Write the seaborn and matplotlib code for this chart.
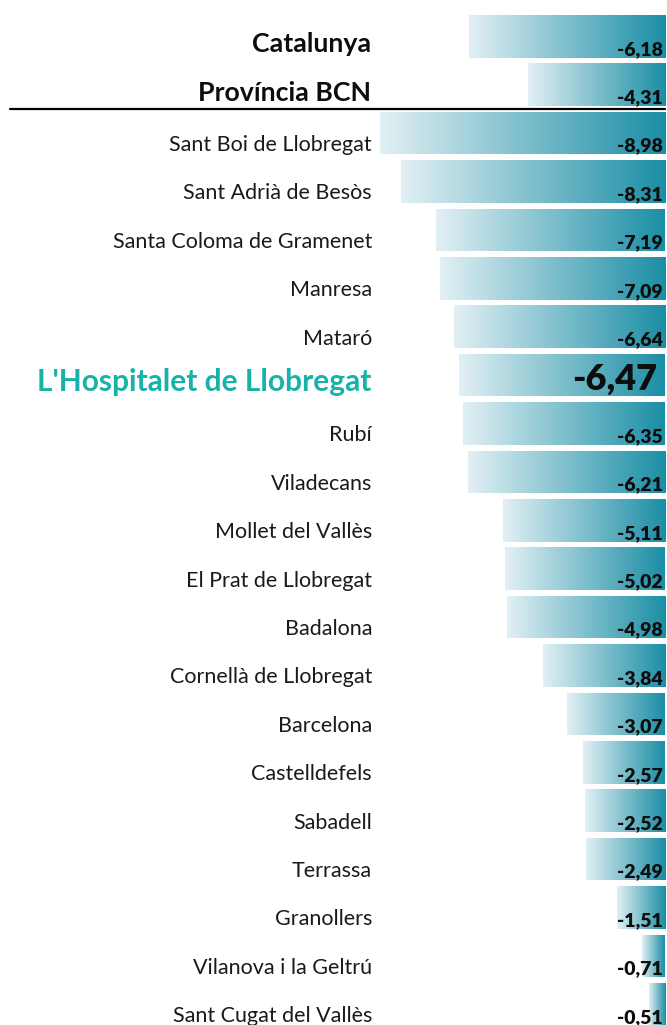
import numpy as np
import pandas as pd
import matplotlib
matplotlib.use('Agg')
import matplotlib.pyplot as plt
import matplotlib.transforms as mtransforms
from matplotlib import font_manager
from matplotlib.colors import LinearSegmentedColormap
import seaborn as sns

# data
names = ['Catalunya', 'Província BCN', 'Sant Boi de Llobregat', 'Sant Adrià de Besòs',
         'Santa Coloma de Gramenet', 'Manresa', 'Mataró', "L'Hospitalet de Llobregat",
         'Rubí', 'Viladecans', 'Mollet del Vallès', 'El Prat de Llobregat', 'Badalona',
         'Cornellà de Llobregat', 'Barcelona', 'Castelldefels', 'Sabadell', 'Terrassa',
         'Granollers', 'Vilanova i la Geltrú', 'Sant Cugat del Vallès']
values = [-6.18, -4.31, -8.98, -8.31, -7.19, -7.09, -6.64, -6.47, -6.35, -6.21, -5.11,
          -5.02, -4.98, -3.84, -3.07, -2.57, -2.52, -2.49, -1.51, -0.71, -0.51]
header_rows = ['Catalunya', 'Província BCN']
highlight = "L'Hospitalet de Llobregat"

df = pd.DataFrame({'name': names, 'value': values})

sns.set_theme(style='white')
available = {f.name for f in font_manager.fontManager.ttflist}
label_font = 'Lato' if 'Lato' in available else 'DejaVu Sans'
plt.rcParams['font.family'] = [label_font, 'DejaVu Sans']

fig = plt.figure(figsize=(6.67, 10.25), dpi=100)
ax = fig.add_axes([379.5 / 667, 1 - 1028.5 / 1025, 285.5 / 667, 1016.4 / 1025])

sns.barplot(data=df, x='value', y='name', orient='h', width=0.88,
            color='#1b8ea5', ax=ax, errorbar=None)

# gradient fill, light on the left to teal on the right
cmap = LinearSegmentedColormap.from_list('grad', ['#e2f0f4', '#1b8ea5'])
grad = np.linspace(0, 1, 256).reshape(1, -1)
for patch in list(ax.patches):
    bb = patch.get_bbox()
    im = ax.imshow(grad, cmap=cmap, aspect='auto', interpolation='bicubic',
                   extent=(min(bb.x0, bb.x1), max(bb.x0, bb.x1), max(bb.y0, bb.y1), min(bb.y0, bb.y1)),
                   zorder=2)
    im.set_clip_path(patch)
    patch.set_facecolor('none')
    patch.set_edgecolor('none')

ax.set_xlim(-8.98, 0)
ax.set_ylim(20.5, -0.5)
ax.set_xticks([])
ax.set_yticks([])
ax.set_xlabel('')
ax.set_ylabel('')
sns.despine(ax=ax, left=True, bottom=True)

lab_trans = mtransforms.blended_transform_factory(ax.transAxes, ax.transData)
for i, (n, v) in enumerate(zip(names, values)):
    txt = f'{v:.2f}'.replace('.', ',')
    if n == highlight:
        ax.text(-0.03, i + 0.33, n, transform=lab_trans, ha='right', va='baseline',
                fontsize=21.5, fontweight='bold', color='#17b2aa')
        ax.text(-0.25, i + 0.30, txt, ha='right', va='baseline', fontsize=26,
                fontweight='heavy', color='#0d0d0d', zorder=3)
    elif n in header_rows:
        ax.text(-0.03, i + 0.33, n, transform=lab_trans, ha='right', va='baseline',
                fontsize=19.3, fontweight='bold', color='#0d0d0d')
        ax.text(-0.06, i + 0.38, txt, ha='right', va='baseline', fontsize=14,
                fontweight='heavy', color='#0d0d0d', zorder=3)
    else:
        ax.text(-0.026, i + 0.37, n, transform=lab_trans, ha='right', va='baseline',
                fontsize=15.5, color='#1a1a1a')
        ax.text(-0.06, i + 0.38, txt, ha='right', va='baseline', fontsize=14,
                fontweight='heavy', color='#0d0d0d', zorder=3)

# separator line under the two summary rows
line_trans = mtransforms.blended_transform_factory(fig.transFigure, ax.transData)
ax.plot([10 / 667, 665 / 667], [1.5, 1.5], transform=line_trans, color='black',
        lw=1.6, clip_on=False, zorder=4)

fig.savefig('out.png', dpi=100)
